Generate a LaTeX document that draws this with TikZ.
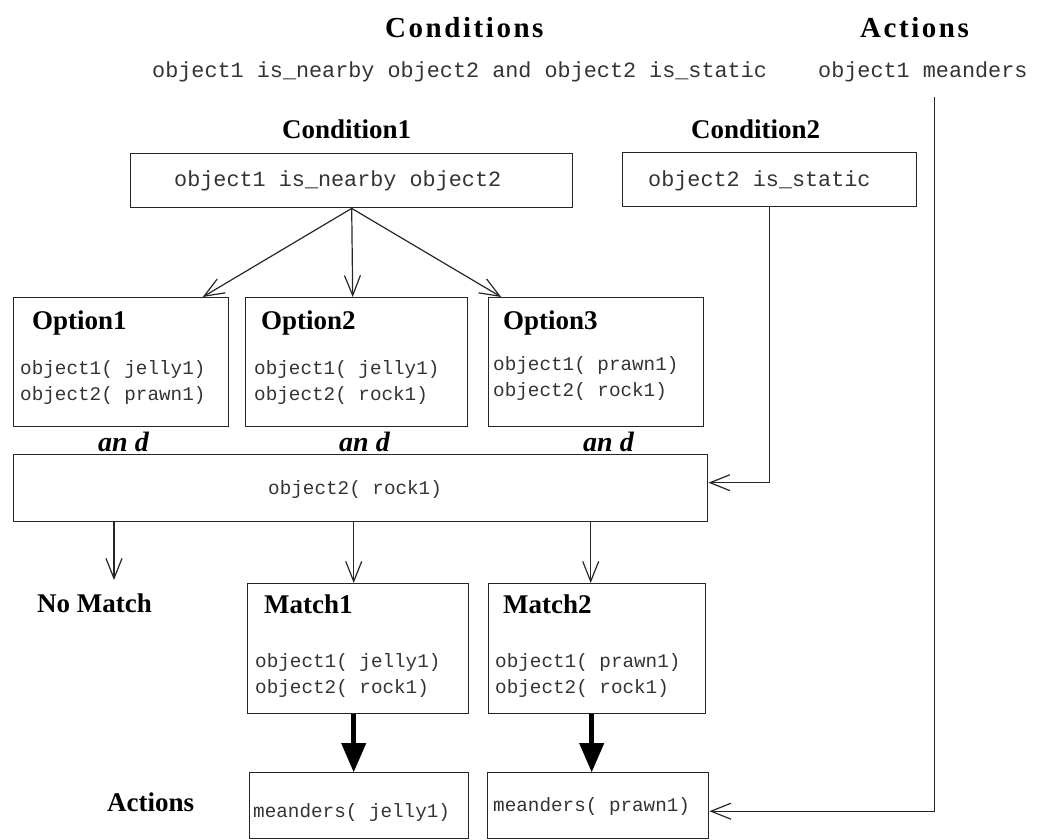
\documentclass[tikz,border=0pt]{standalone}
\usepackage{fontspec}
\setmainfont{Liberation Serif}
\setmonofont{Liberation Mono}
\newfontfamily\headfont[LetterSpace=8.8]{Liberation Serif}
\usetikzlibrary{arrows.meta,calc}

\begin{document}
\begin{tikzpicture}[x=1pt,y=-1pt,
  box/.style={draw=black!85,line width=1.4pt,inner sep=0pt,anchor=north west},
  ttl/.style={inner sep=0pt,anchor=base west,font=\fontsize{27}{27}\selectfont\bfseries},
  head/.style={inner sep=0pt,anchor=base west,font=\fontsize{29}{29}\selectfont\headfont\bfseries},
  code/.style={inner sep=0pt,anchor=base west,text=black!80,font=\fontsize{19.3}{19.3}\selectfont\ttfamily},
  bigcode/.style={inner sep=0pt,anchor=base west,text=black!80,font=\fontsize{21.8}{21.8}\selectfont\ttfamily},
  conj/.style={inner sep=0pt,anchor=base west,font=\fontsize{28}{28}\selectfont\bfseries\itshape},
  arr/.style={line width=1.2pt,draw=black!85,-{Straight Barb[length=20pt,width=16pt]}},
  bigarr/.style={line width=5pt,draw=black,-{Triangle[length=29pt,width=25pt,line width=1pt]}}
]
\useasboundingbox (0,0) rectangle (1045,840);

% headings and rule text
\node[head] (hcond) at (385,38) {Conditions};
\node[head] (hact) at (860,38) {Actions};
\node[bigcode] (rulec) at (152,78) {object1 is\_nearby object2 and object2 is\_static};
\node[bigcode] (rulea) at (818,78) {object1 meanders};

% condition boxes
\node[ttl] (lc1) at (282,139) {Condition1};
\node[ttl] (lc2) at (691,139) {Condition2};
\node[box,minimum width=442pt,minimum height=54pt] (c1) at (130,153) {};
\node[box,minimum width=294pt,minimum height=54pt] (c2) at (622,152) {};
\node[bigcode] (tc1) at (174,187) {object1 is\_nearby object2};
\node[bigcode] (tc2) at (648,187) {object2 is\_static};

% option boxes
\node[box,minimum width=215pt,minimum height=129pt] (o1) at (13,297) {};
\node[box,minimum width=222pt,minimum height=129pt] (o2) at (245,297) {};
\node[box,minimum width=215pt,minimum height=129pt] (o3) at (488,297) {};
\node[ttl] (lo1) at (32,329) {Option1};
\node[ttl] (lo2) at (261,329) {Option2};
\node[ttl] (lo3) at (503,329) {Option3};
\node[code] (o1a) at (20,374) {object1( jelly1)};
\node[code] (o1b) at (20,400) {object2( prawn1)};
\node[code] (o2a) at (254,374) {object1( jelly1)};
\node[code] (o2b) at (254,400) {object2( rock1)};
\node[code] (o3a) at (493,370) {object1( prawn1)};
\node[code] (o3b) at (493,396) {object2( rock1)};

% conjunctions
\node[conj] (and1) at (98,451) {an\hspace{7pt}d};
\node[conj] (and2) at (339,451) {an\hspace{7pt}d};
\node[conj] (and3) at (583,451) {an\hspace{7pt}d};

% static-object box
\node[box,minimum width=694pt,minimum height=67pt] (big) at (13,454) {};
\node[code] (tbig) at (268,494) {object2( rock1)};

% results
\node[ttl] (nm) at (37,612) {No Match};
\node[box,minimum width=221pt,minimum height=130pt] (m1) at (247,583) {};
\node[box,minimum width=217pt,minimum height=130pt] (m2) at (488,583) {};
\node[ttl] (lm1) at (264,613) {Match1};
\node[ttl] (lm2) at (503,613) {Match2};
\node[code] (m1a) at (255,667) {object1( jelly1)};
\node[code] (m1b) at (255,693) {object2( rock1)};
\node[code] (m2a) at (495,667) {object1( prawn1)};
\node[code] (m2b) at (495,693) {object2( rock1)};

% actions
\node[ttl] (lact) at (107,811) {Actions};
\node[box,minimum width=219pt,minimum height=66pt] (a1) at (249,772) {};
\node[box,minimum width=221pt,minimum height=66pt] (a2) at (487,772) {};
\node[code] (ta1) at (253,817) {meanders( jelly1)};
\node[code] (ta2) at (493,811) {meanders( prawn1)};

% connectors
\draw[arr] (c1.south) -- ([xshift=81.5pt]o1.north);
\draw[arr] (c1.south) -- ([xshift=-4pt]o2.north);
\draw[arr] (c1.south) -- ([xshift=-95pt]o3.north);
\draw[arr] (c2.south) |- ([yshift=5.5pt]big.east);
\draw[arr] ([xshift=12pt,yshift=-14pt]rulea.south) |- ([yshift=-5.5pt]a2.east);

\coordinate (nmtip) at (114,580);
\coordinate (m1in) at ([xshift=-4.5pt]m1.north);
\coordinate (m2in) at ([xshift=-6.5pt]m2.north);
\draw[arr] (big.south -| nmtip) -- (nmtip);
\draw[arr] (big.south -| m1in) -- (m1in);
\draw[arr] (big.south -| m2in) -- (m2in);

\draw[bigarr] ([xshift=-4.5pt]m1.south) -- ([xshift=-5.5pt]a1.north);
\draw[bigarr] ([xshift=-5.5pt]m2.south) -- ([xshift=-6.5pt]a2.north);
\end{tikzpicture}
\end{document}
